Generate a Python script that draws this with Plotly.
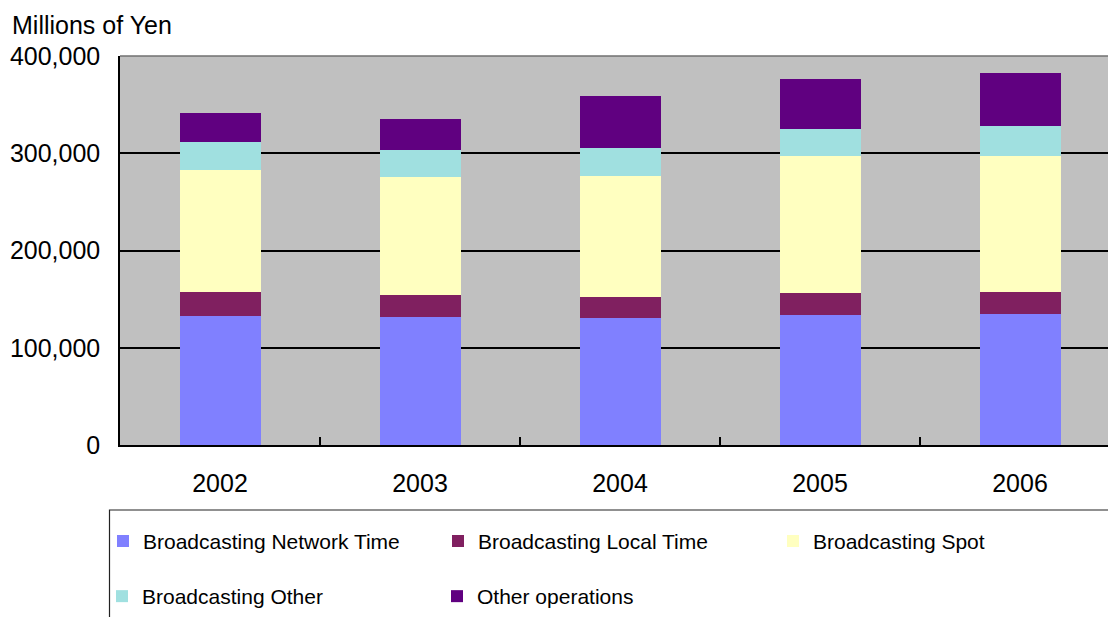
import plotly.graph_objects as go

# Revenue breakdown by fiscal year (millions of yen)
years = ["2002", "2003", "2004", "2005", "2006"]
network_time = [133000, 132000, 131000, 134000, 135000]
local_time = [24500, 22400, 21400, 22400, 22400]
spot = [125400, 121300, 124400, 140700, 139700]
broadcasting_other = [28500, 27500, 28500, 27500, 30600]
other_operations = [29600, 31600, 54000, 52000, 55000]

y_ticks = [0, 100000, 200000, 300000, 400000]

series = [
    ("Broadcasting Network Time", network_time, "#8080FF", "legend"),
    ("Broadcasting Local Time", local_time, "#802060", "legend"),
    ("Broadcasting Spot", spot, "#FFFFC0", "legend"),
    ("Broadcasting Other", broadcasting_other, "#A0E0E0", "legend2"),
    ("Other operations", other_operations, "#600080", "legend2"),
]

FONT = "Liberation Sans, Arial, sans-serif"

W, H = 1108, 617
L, T, B = 120, 56, 169  # plot area margins in px
PW = W - L
PH = H - T - B


def px_x(px):
    return (px - L) / PW


def px_y(py):
    return (T + PH - py) / PH


fig = go.Figure()
for name, vals, color, leg in series:
    fig.add_trace(go.Bar(
        x=years, y=vals, name=name, legend=leg,
        marker=dict(color=color, line=dict(width=0)),
    ))

legend_common = dict(
    orientation="h",
    xanchor="left",
    yanchor="middle",
    entrywidth=290,
    entrywidthmode="pixels",
    traceorder="normal",
    bgcolor="rgba(0,0,0,0)",
    borderwidth=0,
    font=dict(family=FONT, size=21, color="black"),
    itemwidth=30,
)

fig.update_layout(
    width=W, height=H,
    margin=dict(l=L, r=0, t=T, b=B, pad=0),
    paper_bgcolor="white",
    plot_bgcolor="#C0C0C0",
    barmode="stack",
    bargap=0.595,
    font=dict(family=FONT, size=25, color="black"),
    legend=dict(x=px_x(105), y=px_y(545), **legend_common),
    legend2=dict(x=px_x(102), y=px_y(601), **legend_common),
    xaxis=dict(
        type="category",
        range=[-0.5, -0.5 + PW / 200],
        showgrid=False,
        showline=True, linecolor="black", linewidth=1.5,
        ticks="inside", ticklen=8, tickcolor="black", tickwidth=1.5,
        tickson="boundaries",
        ticklabelstandoff=15,
        tickfont=dict(family=FONT, size=25, color="black"),
        fixedrange=True,
    ),
    yaxis=dict(
        range=[0, 400000],
        tickvals=y_ticks,
        tickformat=",d",
        showgrid=True, gridcolor="#000000", gridwidth=1.5,
        zeroline=False,
        showline=True, linecolor="black", linewidth=1.5,
        ticks="inside", ticklen=8, tickcolor="black", tickwidth=1.5,
        ticklabelstandoff=13,
        tickfont=dict(family=FONT, size=25, color="black"),
        fixedrange=True,
    ),
    shapes=[
        # top edge of the plot area
        dict(type="line", xref="paper", yref="paper", x0=0, x1=1, y0=1, y1=1,
             line=dict(color="#707070", width=1.5)),
        # legend frame
        dict(type="rect", xref="paper", yref="paper",
             x0=px_x(109.5), x1=px_x(1130), y0=px_y(513.5), y1=px_y(660),
             line=dict(color="#222222", width=1.2), fillcolor="rgba(0,0,0,0)"),
    ],
    annotations=[
        dict(text="Millions of Yen", xref="paper", yref="paper",
             x=px_x(10), y=px_y(25), xanchor="left", yanchor="middle",
             showarrow=False, font=dict(family=FONT, size=25, color="black")),
    ],
)

fig.write_html("out.html", config={"displayModeBar": False})
